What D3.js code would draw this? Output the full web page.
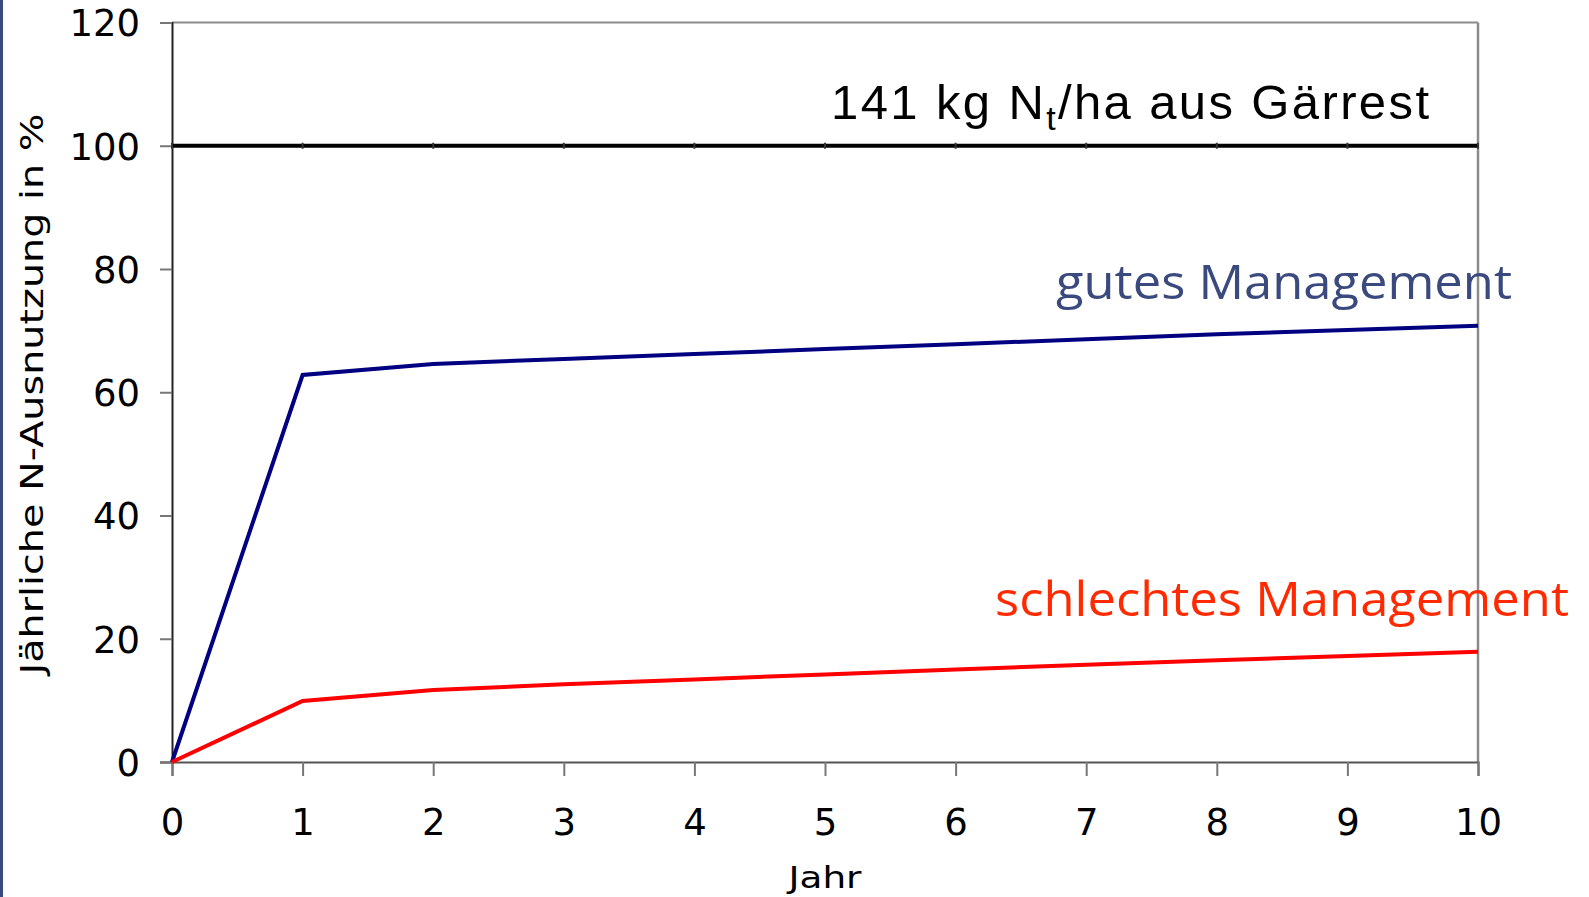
<!DOCTYPE html>
<html><head><meta charset="utf-8">
<script src="https://cdn.jsdelivr.net/npm/d3@7"></script>
<style>html,body{margin:0;padding:0;background:#fff;}svg{display:block;}</style>
</head><body>
<script>
const years = [0,1,2,3,4,5,6,7,8,9,10];
const gutes = [0,62.8,64.6,65.4,66.2,67.0,67.8,68.6,69.4,70.1,70.8];
const schlechtes = [0,9.9,11.7,12.6,13.4,14.2,15.0,15.8,16.5,17.2,17.9];
const referenceValue = [100];
const yTicks = [0,20,40,60,80,100,120];
const xTicks = [0,1,2,3,4,5,6,7,8,9,10];
const labels = {yTitle:"Jährliche N-Ausnutzung in %", xTitle:"Jahr", good:"gutes Management", bad:"schlechtes Management"};

const W=1589,H=897;
const svg=d3.select("body").append("svg").attr("width",W).attr("height",H);
svg.append("rect").attr("width",W).attr("height",H).attr("fill","#fff");
svg.append("rect").attr("x",0).attr("y",0).attr("width",3).attr("height",H).attr("fill","#3b4a7e");

const L=172,R=1478,T=22.5,B=762;
const x=d3.scaleLinear().domain([0,10]).range([L,R]);
const y=d3.scaleLinear().domain([0,120]).range([B,T]);
const font="'DejaVu Sans', Verdana, sans-serif";

// frame top/right
svg.append("line").attr("x1",L).attr("x2",R).attr("y1",y(120)).attr("y2",y(120)).attr("stroke","#8c8c8c").attr("stroke-width",2);
svg.append("line").attr("x1",R).attr("x2",R).attr("y1",y(120)).attr("y2",B).attr("stroke","#8c8c8c").attr("stroke-width",2.5);

// y axis
const ya=svg.append("g").attr("transform",`translate(${L},0)`).call(d3.axisLeft(y).tickValues(yTicks).tickSize(12).tickPadding(20));
ya.select(".domain").attr("stroke","#222").attr("stroke-width",2);
ya.selectAll(".tick line").attr("stroke","#777").attr("stroke-width",2);
ya.selectAll("text").attr("font-family",font).attr("font-size",37).attr("fill","#000").attr("dy","0.36em");

// x axis
const xa=svg.append("g").attr("transform",`translate(0,${B})`).call(d3.axisBottom(x).tickValues(xTicks).tickSize(14).tickPadding(32));
xa.select(".domain").attr("stroke","#555").attr("stroke-width",2);
xa.selectAll(".tick line").attr("stroke","#777").attr("stroke-width",2);
xa.selectAll("text").attr("font-family",font).attr("font-size",37).attr("fill","#000").attr("dy","0.72em");

// reference line at 100
svg.selectAll(".ref").data(referenceValue).enter().append("line")
  .attr("x1",L).attr("x2",R).attr("y1",d=>y(d)).attr("y2",d=>y(d))
  .attr("stroke","#000").attr("stroke-width",4);
svg.selectAll(".refTick").data(xTicks).enter().append("line")
  .attr("x1",d=>x(d)).attr("x2",d=>x(d)).attr("y1",y(100)-3).attr("y2",y(100)+3)
  .attr("stroke","#333").attr("stroke-width",2);

const line=d3.line().x((d,i)=>x(years[i])).y(d=>y(d));
svg.append("path").datum(gutes).attr("d",line).attr("fill","none").attr("stroke","#000080").attr("stroke-width",4).attr("stroke-linejoin","miter");
svg.append("path").datum(schlechtes).attr("d",line).attr("fill","none").attr("stroke","#ff0000").attr("stroke-width",4).attr("stroke-linejoin","miter");

// annotation
const ann=svg.append("text").attr("x",831).attr("y",118.5).attr("font-family","'Liberation Sans',Arial,sans-serif").attr("font-size",49).attr("fill","#000")
  .attr("textLength",598).attr("lengthAdjust","spacing");
ann.append("tspan").text("141 kg N");
ann.append("tspan").attr("font-size",34).attr("dy",11).text("t");
ann.append("tspan").attr("dy",-11).text("/ha aus Gärrest");

svg.append("text").attr("x",1056).attr("y",299).attr("font-family","'Open Sans','DejaVu Sans',sans-serif").attr("font-size",47).attr("fill","#3a4a7e")
  .attr("textLength",456).attr("lengthAdjust","spacingAndGlyphs").text(labels.good);
svg.append("text").attr("x",995).attr("y",616).attr("font-family","'Open Sans','DejaVu Sans',sans-serif").attr("font-size",47).attr("fill","#ff2a00")
  .attr("textLength",574).attr("lengthAdjust","spacingAndGlyphs").text(labels.bad);

// axis titles
svg.append("text").attr("x",825).attr("y",888).attr("text-anchor","middle").attr("font-family",font).attr("font-size",31).attr("fill","#000")
  .attr("textLength",73).attr("lengthAdjust","spacingAndGlyphs").text(labels.xTitle);
svg.append("text").attr("transform","translate(43,394) rotate(-90)").attr("text-anchor","middle").attr("font-family",font).attr("font-size",32).attr("fill","#000")
  .attr("textLength",561).attr("lengthAdjust","spacingAndGlyphs").text(labels.yTitle);
</script>
</body></html>
